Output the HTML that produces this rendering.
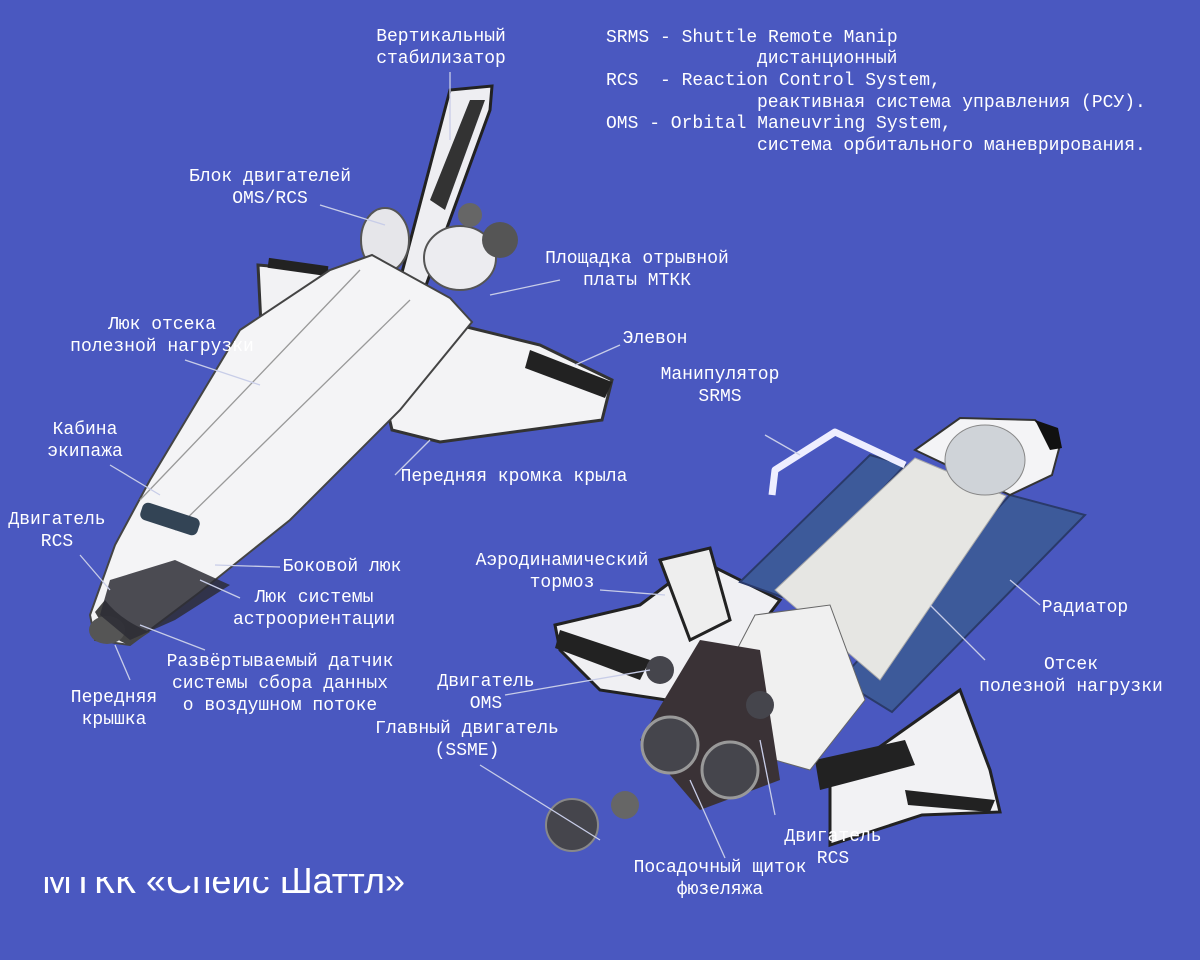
<!DOCTYPE html>
<html><head><meta charset="utf-8"><style>
html,body{margin:0;padding:0;background:#4a58c0;}
svg{display:block}
.t{font-family:"Liberation Mono","DejaVu Sans Mono",monospace;font-size:18px;fill:#fff;}
.c{text-anchor:middle}
.l{stroke:#c8cde8;stroke-width:1.3;fill:none}
</style></head><body>
<svg width="1200" height="960" viewBox="0 0 1200 960">
<rect width="1200" height="960" fill="#4a58c0"/>

<!-- LEFT SHUTTLE -->
<polygon points="258,265 340,272 282,345 262,345" fill="#f2f2f4" stroke="#333" stroke-width="3"/>
<rect x="268" y="262" width="60" height="10" fill="#222" transform="rotate(8 298 267)"/>
<polygon points="430,318 540,345 612,380 602,420 440,442 392,430 385,400" fill="#f3f3f5" stroke="#333" stroke-width="3"/>
<polygon points="530,350 612,382 605,398 525,368" fill="#222"/>
<polygon points="400,280 450,90 492,86 490,110 425,288" fill="#eeeef2" stroke="#222" stroke-width="3"/>
<polygon points="430,200 470,100 485,100 445,210" fill="#333"/>
<ellipse cx="385" cy="240" rx="24" ry="32" fill="#e6e6ea" stroke="#555" stroke-width="2"/>
<ellipse cx="460" cy="258" rx="36" ry="32" fill="#ececf0" stroke="#555" stroke-width="2"/>
<circle cx="500" cy="240" r="18" fill="#555"/>
<circle cx="470" cy="215" r="12" fill="#666"/>
<polygon points="330,270 372,255 450,298 472,322 400,410 290,520 200,592 130,645 95,640 90,615 115,545 150,480 240,330" fill="#f4f4f6" stroke="#444" stroke-width="2"/>
<polyline points="140,500 360,270" class="l" style="stroke:#999"/>
<polyline points="175,530 410,300" class="l" style="stroke:#999"/>
<path d="M95,612 Q110,640 130,645 L150,632 Q120,620 105,600 Z" fill="#444"/>
<ellipse cx="107" cy="630" rx="18" ry="14" fill="#555"/>
<polygon points="110,580 175,560 230,585 175,620 130,640 100,615" fill="#2d2d35" opacity=".85"/>
<rect x="140" y="510" width="60" height="18" rx="6" fill="#345" transform="rotate(18 170 519)"/>

<!-- RIGHT SHUTTLE -->
<polygon points="555,625 640,605 700,560 780,600 700,705 600,690 560,650" fill="#f0f0f3" stroke="#222" stroke-width="3"/>
<polygon points="560,630 650,660 640,680 555,648" fill="#222"/>
<polygon points="660,560 710,548 730,620 690,640" fill="#eee" stroke="#222" stroke-width="3"/>
<polygon points="740,582 870,455 905,465 782,597" fill="#3d5a9a" stroke="#2a3a6a" stroke-width="2"/>
<polygon points="840,680 1010,495 1085,515 892,712" fill="#3d5a9a" stroke="#2a3a6a" stroke-width="2"/>
<polygon points="775,590 915,458 1006,496 880,680" fill="#e6e6e3" stroke="#aaa" stroke-width="1"/>
<polygon points="915,450 960,418 1035,420 1060,445 1052,475 1010,495" fill="#f4f4f6" stroke="#333" stroke-width="2"/>
<ellipse cx="985" cy="460" rx="40" ry="35" fill="#cfd3d8" stroke="#888"/>
<path d="M1035,420 L1058,428 L1062,448 L1050,450 Z" fill="#111"/>
<polygon points="830,782 960,690 990,770 1000,812 922,815 830,845" fill="#f2f2f4" stroke="#222" stroke-width="3"/>
<polygon points="815,760 905,740 915,765 820,790" fill="#222"/>
<polygon points="905,790 995,800 990,812 908,805" fill="#222"/>
<polygon points="755,615 830,605 865,700 810,770 740,750 700,720" fill="#f0f0f0" stroke="#666"/>
<polygon points="640,740 700,640 760,650 780,780 700,810" fill="#3a3236"/>
<circle cx="670" cy="745" r="28" fill="#45454c" stroke="#999" stroke-width="3"/>
<circle cx="730" cy="770" r="28" fill="#45454c" stroke="#999" stroke-width="3"/>
<circle cx="760" cy="705" r="14" fill="#45454c"/>
<circle cx="660" cy="670" r="14" fill="#45454c"/>
<circle cx="572" cy="825" r="26" fill="#45454c" stroke="#888" stroke-width="2"/>
<circle cx="625" cy="805" r="14" fill="#666"/>
<polyline points="772,495 775,470 835,432 905,465" fill="none" stroke="#eef" stroke-width="7" stroke-linejoin="round"/>

<!-- leader lines -->
<line class="l" x1="450" y1="72" x2="450" y2="140"/>
<line class="l" x1="320" y1="205" x2="385" y2="225"/>
<line class="l" x1="560" y1="280" x2="490" y2="295"/>
<line class="l" x1="185" y1="360" x2="260" y2="385"/>
<line class="l" x1="620" y1="345" x2="575" y2="365"/>
<line class="l" x1="765" y1="435" x2="800" y2="455"/>
<line class="l" x1="110" y1="465" x2="160" y2="495"/>
<line class="l" x1="395" y1="475" x2="430" y2="440"/>
<line class="l" x1="80" y1="555" x2="110" y2="590"/>
<line class="l" x1="280" y1="567" x2="215" y2="565"/>
<line class="l" x1="600" y1="590" x2="665" y2="595"/>
<line class="l" x1="1040" y1="605" x2="1010" y2="580"/>
<line class="l" x1="240" y1="598" x2="200" y2="580"/>
<line class="l" x1="205" y1="650" x2="140" y2="625"/>
<line class="l" x1="985" y1="660" x2="930" y2="605"/>
<line class="l" x1="505" y1="695" x2="650" y2="670"/>
<line class="l" x1="130" y1="680" x2="115" y2="645"/>
<line class="l" x1="480" y1="765" x2="600" y2="840"/>
<line class="l" x1="775" y1="815" x2="760" y2="740"/>
<line class="l" x1="725" y1="858" x2="690" y2="780"/>

<!-- text -->
<g class="t c">
<text x="441" y="41">Вертикальный</text><text x="441" y="63">стабилизатор</text>
<text x="270" y="181">Блок двигателей</text><text x="270" y="203">OMS/RCS</text>
<text x="637" y="263">Площадка отрывной</text><text x="637" y="285">платы МТКК</text>
<text x="162" y="329">Люк отсека</text><text x="162" y="351">полезной нагрузки</text>
<text x="655" y="343">Элевон</text>
<text x="720" y="379">Манипулятор</text><text x="720" y="401">SRMS</text>
<text x="85" y="434">Кабина</text><text x="85" y="456">экипажа</text>
<text x="514" y="481">Передняя кромка крыла</text>
<text x="57" y="524">Двигатель</text><text x="57" y="546">RCS</text>
<text x="342" y="571">Боковой люк</text>
<text x="562" y="565">Аэродинамический</text><text x="562" y="587">тормоз</text>
<text x="1085" y="612">Радиатор</text>
<text x="314" y="602">Люк системы</text><text x="314" y="624">астроориентации</text>
<text x="280" y="666">Развёртываемый датчик</text><text x="280" y="688">системы сбора данных</text><text x="280" y="710">о воздушном потоке</text>
<text x="1071" y="669">Отсек</text><text x="1071" y="691">полезной нагрузки</text>
<text x="486" y="686">Двигатель</text><text x="486" y="708">OMS</text>
<text x="114" y="702">Передняя</text><text x="114" y="724">крышка</text>
<text x="467" y="733">Главный двигатель</text><text x="467" y="755">(SSME)</text>
<text x="833" y="841">Двигатель</text><text x="833" y="863">RCS</text>
<text x="720" y="872">Посадочный щиток</text><text x="720" y="894">фюзеляжа</text>
</g>
<g class="t">
<text x="606" y="42" xml:space="preserve">SRMS - Shuttle Remote Manip</text>
<text x="757" y="63">дистанционный</text>
<text x="606" y="85" xml:space="preserve">RCS  - Reaction Control System,</text>
<text x="757" y="107">реактивная система управления (РСУ).</text>
<text x="606" y="128" xml:space="preserve">OMS - Orbital Maneuvring System,</text>
<text x="757" y="150">система орбитального маневрирования.</text>
</g>
<text x="42" y="893" style="font-family:'Liberation Sans',sans-serif;font-size:36px;fill:#fff">МТКК «Спейс Шаттл»</text>
<rect x="40" y="855" width="252" height="22" fill="#4a58c0"/>
</svg>
</body></html>
